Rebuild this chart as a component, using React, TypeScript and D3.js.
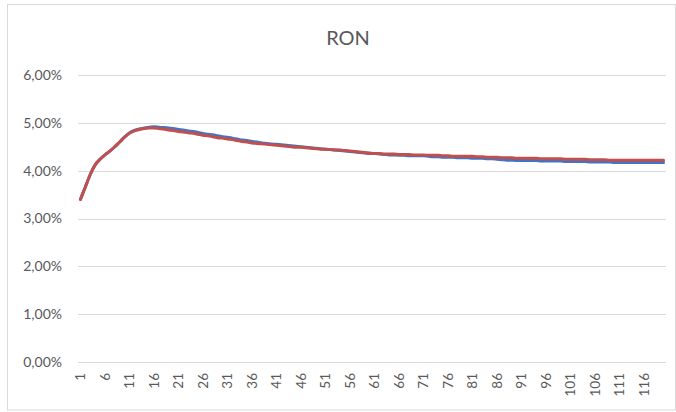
import React from "react";
import * as d3 from "d3";

const title = "RON";
const yTicks = [0, 0.01, 0.02, 0.03, 0.04, 0.05, 0.06];
const periods = Array.from({ length: 120 }, (_, i) => i + 1);
const tickLabels = periods.filter((p) => (p - 1) % 5 === 0);

const blueSeries = [
  3.40, 3.66, 3.92, 4.12, 4.24, 4.33, 4.41, 4.50, 4.60, 4.70,
  4.79, 4.84, 4.87, 4.89, 4.91, 4.92, 4.91, 4.90, 4.89, 4.88,
  4.86, 4.85, 4.83, 4.82, 4.80, 4.78, 4.76, 4.75, 4.73, 4.71,
  4.70, 4.68, 4.66, 4.64, 4.63, 4.61, 4.60, 4.58, 4.57, 4.56,
  4.55, 4.54, 4.53, 4.52, 4.51, 4.50, 4.49, 4.48, 4.47, 4.46,
  4.45, 4.44, 4.43, 4.42, 4.41, 4.40, 4.39, 4.38, 4.37, 4.36,
  4.36, 4.35, 4.34, 4.33, 4.33, 4.32, 4.32, 4.31, 4.31, 4.31,
  4.31, 4.30, 4.29, 4.29, 4.28, 4.28, 4.28, 4.27, 4.27, 4.27,
  4.26, 4.26, 4.26, 4.25, 4.25, 4.24, 4.23, 4.22, 4.22, 4.21,
  4.21, 4.21, 4.21, 4.21, 4.20, 4.20, 4.20, 4.20, 4.20, 4.19,
  4.19, 4.19, 4.19, 4.19, 4.18, 4.18, 4.18, 4.18, 4.18, 4.17,
  4.17, 4.17, 4.17, 4.17, 4.17, 4.17, 4.17, 4.17, 4.17, 4.17,
];

const redSeries = [
  3.40, 3.66, 3.92, 4.12, 4.24, 4.33, 4.41, 4.50, 4.60, 4.70,
  4.78, 4.83, 4.86, 4.88, 4.89, 4.89, 4.88, 4.87, 4.85, 4.84,
  4.82, 4.81, 4.79, 4.78, 4.76, 4.74, 4.73, 4.71, 4.69, 4.68,
  4.66, 4.65, 4.63, 4.61, 4.60, 4.58, 4.57, 4.56, 4.55, 4.54,
  4.53, 4.52, 4.51, 4.50, 4.49, 4.49, 4.48, 4.47, 4.46, 4.45,
  4.45, 4.44, 4.43, 4.43, 4.42, 4.41, 4.40, 4.39, 4.38, 4.37,
  4.36, 4.36, 4.35, 4.35, 4.35, 4.34, 4.34, 4.34, 4.33, 4.33,
  4.33, 4.32, 4.32, 4.32, 4.31, 4.31, 4.30, 4.30, 4.30, 4.30,
  4.30, 4.29, 4.29, 4.28, 4.28, 4.28, 4.27, 4.27, 4.27, 4.26,
  4.26, 4.26, 4.26, 4.26, 4.25, 4.25, 4.25, 4.25, 4.25, 4.24,
  4.24, 4.24, 4.24, 4.24, 4.23, 4.23, 4.23, 4.23, 4.22, 4.22,
  4.22, 4.22, 4.22, 4.22, 4.22, 4.22, 4.22, 4.22, 4.22, 4.22,
];

const W = 676;
const H = 412;
const plot = { left: 78, right: 666, top: 75, bottom: 362 };
const font = "Lato, 'Open Sans', sans-serif";
const textColor = "#595959";

export default function App() {
  const x = d3
    .scaleBand<number>()
    .domain(periods)
    .range([plot.left, plot.right]);
  const cx = (p: number) => (x(p) as number) + x.bandwidth() / 2;
  const y = d3.scaleLinear().domain([0, 0.06]).range([plot.bottom, plot.top]);
  const fmt = (v: number) => (v * 100).toFixed(2).replace(".", ",") + "%";

  const line = d3
    .line<number>()
    .x((_, i) => cx(periods[i]))
    .y((v) => y(v / 100))
    .curve(d3.curveMonotoneX);

  return (
    <svg
      width={W}
      height={H}
      style={{ position: "absolute", left: 0, top: 0, background: "#fff" }}
    >
      <rect x={7.5} y={4.5} width={668} height={405.5} fill="#fff" stroke="#d9d9d9" strokeWidth={1} />
      <text
        x={348}
        y={45}
        textAnchor="middle"
        fontFamily={font}
        fontSize={20}
        fill={textColor}
      >
        {title}
      </text>
      {yTicks.map((t) => (
        <g key={t}>
          <line
            x1={plot.left}
            x2={plot.right}
            y1={Math.round(y(t)) + 0.5}
            y2={Math.round(y(t)) + 0.5}
            stroke="#d9d9d9"
            strokeWidth={1}
          />
          <text
            x={62}
            y={y(t)}
            dy="0.35em"
            textAnchor="end"
            fontFamily={font}
            fontSize={14}
            fill={textColor}
          >
            {fmt(t)}
          </text>
        </g>
      ))}
      {tickLabels.map((p) => (
        <text
          key={p}
          transform={`translate(${cx(p)},373) rotate(-90)`}
          textAnchor="end"
          dy="0.35em"
          fontFamily={font}
          fontSize={13.5}
          fill={textColor}
        >
          {p}
        </text>
      ))}
      <path d={line(blueSeries) || ""} fill="none" stroke="#4472C4" strokeWidth={3} strokeLinejoin="round" strokeLinecap="round" />
      <path d={line(redSeries) || ""} fill="none" stroke="#C0504D" strokeWidth={3} strokeLinejoin="round" strokeLinecap="round" />
    </svg>
  );
}
